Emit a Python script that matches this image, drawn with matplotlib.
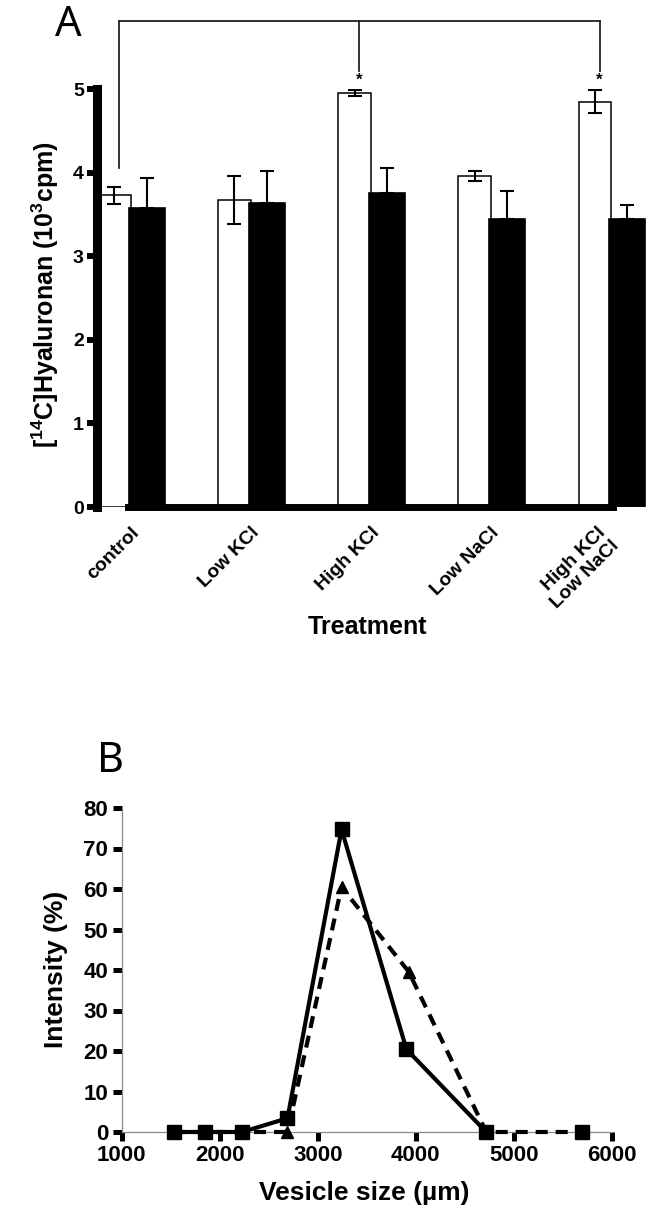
"""Two-panel figure: hyaluronan synthesis per treatment (A) and vesicle size distribution (B)."""

import matplotlib
matplotlib.use("Agg")
import matplotlib.pyplot as plt
import numpy as np

plt.rcParams["font.family"] = ["Liberation Sans", "DejaVu Sans"]
plt.rcParams["font.weight"] = "bold"
plt.rcParams["mathtext.fontset"] = "custom"
plt.rcParams["mathtext.bf"] = "Liberation Sans:bold"
plt.rcParams["mathtext.rm"] = "Liberation Sans:bold"
plt.rcParams["mathtext.default"] = "bf"

# Panel A: [14C]hyaluronan (10^3 cpm), open and filled bars per treatment
treatments = ["control", "Low KCl", "High KCl", "Low NaCl", "High KCl\nLow NaCl"]
open_vals = [3.73, 3.67, 4.95, 3.96, 4.85]
open_err = [0.10, 0.29, 0.035, 0.065, 0.14]
filled_vals = [3.58, 3.64, 3.76, 3.44, 3.44]
filled_err = [0.36, 0.38, 0.30, 0.34, 0.17]

# significance bracket (control vs High KCl, High KCl + Low NaCl)
bracket_top = 5.81
bracket_from = 0
bracket_to = [2, 4]
bracket_drop = [4.06, 5.21, 5.21]
star_level = 5.11

# Panel B: vesicle size distribution
size_solid = [1535, 1855, 2230, 2692, 3243, 3905, 4718]
intensity_solid = [0, 0, 0, 3.4, 74.7, 20.4, 0]
size_dashed = [1535, 1855, 2230, 2692, 3243, 3927, 4718, 5691]
intensity_dashed = [0, 0, 0, 0, 60.5, 39.6, 0, 0]

W, H = 652, 1215
fig = plt.figure(figsize=(W / 100, H / 100), dpi=100)

# ---------------- Panel A ----------------
axA = fig.add_axes([97 / W, (H - 507) / H, 555 / W, 418 / H])
x = np.arange(len(treatments))
off = 0.1345
axA.bar(x - off, open_vals, 0.27, color="white", edgecolor="black", linewidth=1.1, zorder=2)
axA.errorbar(x - off, open_vals, yerr=open_err, fmt="none", ecolor="black",
             elinewidth=1.5, capsize=5, capthick=1.5, zorder=3)
axA.errorbar(x + off, filled_vals, yerr=[np.zeros(len(x)), filled_err], fmt="none",
             ecolor="black", elinewidth=1.5, capsize=5, capthick=1.5, zorder=3)
axA.bar(x + off, filled_vals, 0.3, color="black", edgecolor="black", linewidth=1.2, zorder=4)

axA.set_xlim(-0.279, 4.342)
axA.set_ylim(0, 5)
axA.set_yticks(range(0, 6))
axA.set_xticks(x + 0.1)
axA.set_xticklabels(treatments, rotation=45, ha="right", fontsize=14, fontweight="bold")
axA.tick_params(axis="x", length=0, pad=12)
axA.tick_params(axis="y", direction="out", length=7.5, width=4.3, pad=2, labelsize=14)
for sp in ("top", "right"):
    axA.spines[sp].set_visible(False)
axA.spines["left"].set_linewidth(6.5)
axA.spines["left"].set_bounds(0, 5)
axA.spines["bottom"].set_linewidth(5)
axA.spines["bottom"].set_bounds(-0.02, 4.02)
axA.spines["bottom"].set_zorder(5)

# bracket
bx = [x[bracket_from] - off + 0.04] + [x[i] - off + 0.04 for i in bracket_to]
axA.plot([bx[0], bx[-1]], [bracket_top, bracket_top], color="#222222", lw=1.3, clip_on=False)
for xx, yb in zip(bx, bracket_drop):
    axA.plot([xx, xx], [yb, bracket_top], color="#222222", lw=1.3, clip_on=False)
for xx in bx[1:]:
    axA.text(xx, star_level, "*", ha="center", va="center", fontsize=12, fontweight="bold")

fig.text(45 / W, 1 - 295 / H, r"[$^{14}$C]Hyaluronan (10$^{3}$cpm)", rotation=90,
         ha="center", va="center", fontsize=18, fontweight="bold")
fig.text(368 / W, 1 - 627 / H, "Treatment", ha="center", va="center", fontsize=18, fontweight="bold")
fig.text(55 / W, 1 - 4 / H, "A", ha="left", va="top", fontsize=30,
         family=["Noto Sans", "DejaVu Sans"], fontweight="light")

# ---------------- Panel B ----------------
axB = fig.add_axes([121.5 / W, 83 / H, 490.5 / W, 324 / H])
axB.plot(size_solid, intensity_solid, "-", color="black", lw=3, marker="s", ms=9.5,
         clip_on=False, zorder=4)
axB.plot(size_dashed, intensity_dashed, color="black", lw=3, dashes=(2.9, 1.9), marker="^",
         ms=8, markevery=list(range(len(size_dashed) - 1)), clip_on=False, zorder=3)
axB.plot(size_dashed[-1:], intensity_dashed[-1:], "s", color="black", ms=9.5, clip_on=False, zorder=3)

axB.set_xlim(1000, 6000)
axB.set_ylim(0, 80)
axB.set_xticks(range(1000, 6001, 1000))
axB.set_yticks(range(0, 81, 10))
axB.tick_params(direction="out", length=6.5, width=3.6, color="black", labelsize=16, pad=3)
for sp in ("top", "right"):
    axB.spines[sp].set_visible(False)
for sp in ("left", "bottom"):
    axB.spines[sp].set_linewidth(0.9)
    axB.spines[sp].set_color("#8a8a8a")
for lab in axB.get_xticklabels() + axB.get_yticklabels():
    lab.set_fontweight("bold")
for lab in axA.get_yticklabels():
    lab.set_fontweight("bold")

fig.text(56 / W, 1 - 969 / H, "Intensity (%)", rotation=90, ha="center", va="center",
         fontsize=19, fontweight="bold")
fig.text(364 / W, 1 - 1193 / H, "Vesicle size (µm)", ha="center", va="center",
         fontsize=19, fontweight="bold")
fig.text(97 / W, 1 - 740 / H, "B", ha="left", va="top", fontsize=30,
         family=["Noto Sans", "DejaVu Sans"], fontweight="light")

fig.savefig("out.png", dpi=100)
